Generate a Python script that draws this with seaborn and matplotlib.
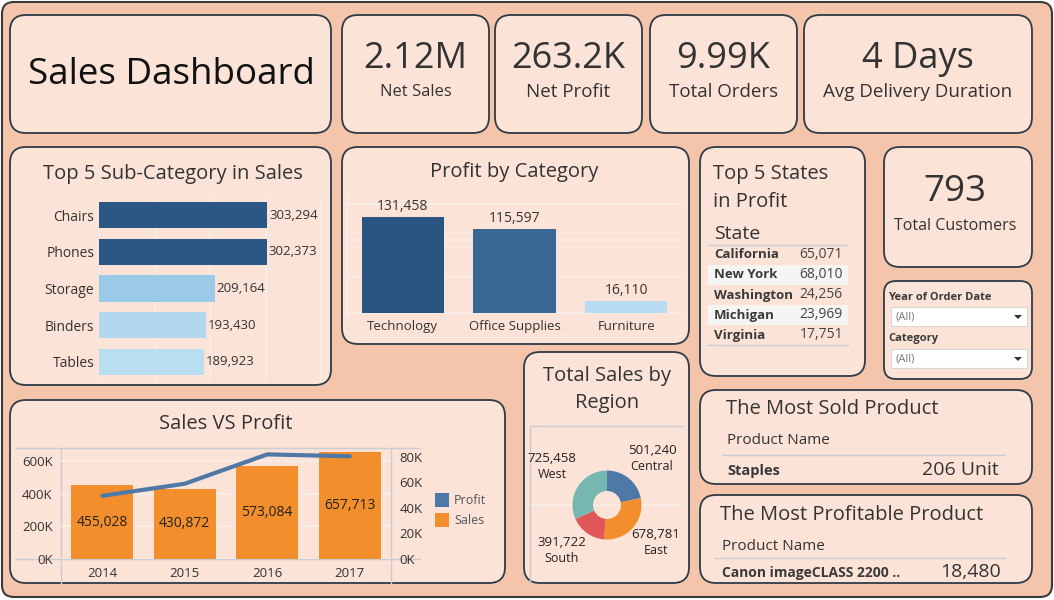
import numpy as np
import pandas as pd
import seaborn as sns
import matplotlib.pyplot as plt
from matplotlib.patches import FancyBboxPatch, Rectangle, Polygon

# ---- data ----
kpi_values = ['2.12M', '263.2K', '9.99K', '4 Days']
kpi_labels = ['Net Sales', 'Net Profit', 'Total Orders', 'Avg Delivery Duration']
sub_cats = ['Chairs', 'Phones', 'Storage', 'Binders', 'Tables']
sub_sales = [303294, 302373, 209164, 193430, 189923]
categories = ['Technology', 'Office Supplies', 'Furniture']
cat_profit = [131458, 115597, 16110]
states = ['California', 'New York', 'Washington', 'Michigan', 'Virginia']
state_profit = [65071, 68010, 24256, 23969, 17751]
years = ['2014', '2015', '2016', '2017']
year_sales = [455028, 430872, 573084, 657713]
year_profit = [49500, 59000, 82000, 80500]
regions = ['Central', 'East', 'South', 'West']
region_sales = [501240, 678781, 391722, 725458]
total_customers = '793'
most_sold = ['Staples', '206 Unit']
most_profit = ['Canon imageCLASS 2200 ..', '18,480']

# ---- style ----
BG = '#F5C5AB'
CARD = '#FCE3D7'
EDGE = '#2E3B47'
TXT = '#333333'
GRID = '#F7EEE9'
LINE = '#C9CDD2'
BLUE = '#4E79A7'
ORANGE = '#F28E2B'

sns.set_theme(style='white')
plt.rcParams['font.family'] = ['Open Sans', 'DejaVu Sans']
plt.rcParams['text.color'] = TXT

W, H = 1054, 600
fig = plt.figure(figsize=(W / 100, H / 100), dpi=100, facecolor='white')
bg = fig.add_axes([0, 0, 1, 1])
bg.set_xlim(0, W)
bg.set_ylim(H, 0)
bg.axis('off')


def card(x0, y0, x1, y1, r=16):
    bg.add_patch(FancyBboxPatch((x0, y0), x1 - x0, y1 - y0,
                                boxstyle=f'round,pad=0,rounding_size={r}',
                                fc=CARD, ec=EDGE, lw=1.3))


def pane(x0, y0, x1, y1):
    a = fig.add_axes([x0 / W, 1 - y1 / H, (x1 - x0) / W, (y1 - y0) / H])
    a.set_facecolor('none')
    return a


def txt(x, y, s, size=10, ha='left', **kw):
    bg.text(x, y, s, fontsize=size, ha=ha, va='center', color=kw.pop('color', TXT), **kw)


def hline(x0, x1, y, c=LINE, lw=1):
    bg.plot([x0, x1], [y, y], color=c, lw=lw, zorder=1)


def vline(x, y0, y1, c=LINE, lw=1):
    bg.plot([x, x], [y0, y1], color=c, lw=lw, zorder=1)


# outer frame
bg.add_patch(FancyBboxPatch((2, 2), W - 4, H - 5, boxstyle='round,pad=0,rounding_size=12',
                            fc=BG, ec='#3A3A3A', lw=1.5))

# cards
card(10, 15, 331, 133)
kpi_boxes = [(342, 489), (495, 642), (650, 797), (804, 1032)]
for x0, x1 in kpi_boxes:
    card(x0, 15, x1, 133)
card(10, 147, 331, 385)
card(342, 147, 689, 344)
card(700, 147, 865, 376)
card(884, 147, 1032, 267)
card(884, 281, 1032, 379, r=12)
card(10, 400, 505, 583)
card(524, 352, 689, 583)
card(700, 390, 1032, 484)
card(700, 495, 1032, 583)

# header + KPIs
txt(171, 75, 'Sales Dashboard', size=26.5, ha='center', color='#111111')
for (x0, x1), v, lab in zip(kpi_boxes, kpi_values, kpi_labels):
    cx = (x0 + x1) / 2
    txt(cx, 59, v, size=26, ha='center')
    txt(cx, 92, lab, size=13.5 if lab != 'Net Sales' else 12, ha='center')

# ---- Top 5 Sub-Category ----
txt(173, 174, 'Top 5 Sub-Category in Sales', size=14.5, ha='center')
ax1 = pane(99, 197, 325, 380)
sub_df = pd.DataFrame({'cat': sub_cats, 'sales': sub_sales})
sns.barplot(data=sub_df, x='sales', y='cat', hue='cat', orient='h', legend=False,
            palette=['#2C5784', '#2C5784', '#9BC9E8', '#B2D7EE', '#B9DDF1'],
            saturation=1, edgecolor='none', linewidth=0,
            width=0.72, ax=ax1, zorder=2)
ax1.set_xlim(0, 407000)
ax1.set_ylim(4.5, -0.5)
ax1.set_xticks([0, 100000, 200000, 300000, 400000])
ax1.set_xticklabels([])
ax1.grid(axis='x', color=GRID, lw=1.2)
ax1.tick_params(axis='both', length=0, labelsize=10, labelcolor=TXT)
ax1.set_xlabel('')
ax1.set_ylabel('')
sns.despine(ax=ax1, left=True, bottom=True)
for i, v in enumerate(sub_sales):
    ax1.text(v + 3000, i, f'{v:,}', va='center', fontsize=9.5, color=TXT)

# ---- Profit by Category ----
txt(514, 172, 'Profit by Category', size=14.5, ha='center')
ax2 = pane(347, 195, 682, 313)
cat_df = pd.DataFrame({'cat': categories, 'profit': cat_profit})
sns.barplot(data=cat_df, x='cat', y='profit', hue='cat', legend=False,
            palette=['#2B5581', '#3A6894', '#B8DCF1'], saturation=1,
            edgecolor='none', linewidth=0, width=0.74, ax=ax2, zorder=2)
ax2.set_xlim(-0.5, 2.5)
ax2.set_ylim(0, 162000)
ax2.set_yticks([50000, 100000, 150000])
ax2.set_yticklabels([])
ax2.grid(axis='y', color=GRID, lw=1.2)
ax2.tick_params(axis='both', length=0, labelsize=9.5, labelcolor=TXT, pad=5)
ax2.set_xlabel('')
ax2.set_ylabel('')
sns.despine(ax=ax2, left=True, bottom=True)
for i, v in enumerate(cat_profit):
    ax2.text(i, v + 4000, f'{v:,}', ha='center', va='bottom', fontsize=10, color=TXT)
hline(347, 682, 313, c=GRID, lw=1.2)
vline(347, 195, 318, c=GRID, lw=1.2)

# ---- Top 5 States ----
txt(713, 174, 'Top 5 States', size=14.5)
txt(713, 202, 'in Profit', size=14.5)
txt(714, 234, 'State', size=14)
hline(708, 848, 245)
for i, (s, v) in enumerate(zip(states, state_profit)):
    y = 255 + 20 * i
    if i % 2 == 1:
        bg.add_patch(Rectangle((708, y - 10), 140, 20, fc='#F5F5F5', ec='none', zorder=1))
    txt(714, y, s, size=9.5, fontweight='bold', color='#3A3A3A')
    txt(843, y, f'{v:,}', size=10, ha='right', color='#444444')
hline(708, 848, 345)

# ---- Total customers ----
txt(955, 192, total_customers, size=26.5, ha='center')
txt(955, 226, 'Total Customers', size=11.5, ha='center')

# ---- Filters ----
for lab, y in [('Year of Order Date', 297), ('Category', 339)]:
    txt(888, y, lab, size=8, fontweight='bold', color='#3A3A3A')
    by = y + 10
    bg.add_patch(Rectangle((891, by), 136, 19, fc='white', ec='#D6D6D6', lw=0.8, zorder=2))
    vline(1009, by + 1, by + 18, c='#E4E4E4')
    txt(896, by + 10, '(All)', size=8, color='#777777', zorder=3)
    bg.add_patch(Polygon([[1014, by + 8], [1022, by + 8], [1018, by + 12]],
                         closed=True, fc='#333333', ec='none', zorder=3))

# ---- Sales VS Profit ----
txt(226, 424, 'Sales VS Profit', size=14.5, ha='center')
hline(15, 420, 448)
hline(15, 420, 559)
vline(61, 448, 583)
vline(391, 448, 583)
ax3 = pane(61, 448, 391, 559)
yr_df = pd.DataFrame({'year': years, 'sales': year_sales, 'profit': year_profit})
sns.barplot(data=yr_df, x='year', y='sales', color=ORANGE, saturation=1,
            edgecolor='none', linewidth=0, width=0.75, ax=ax3, zorder=2)
ax3.set_xlim(-0.5, 3.5)
ax3.set_ylim(0, 683000)
ax3.set_yticks([0, 200000, 400000, 600000])
ax3.set_yticklabels(['0K', '200K', '400K', '600K'])
ax3.grid(axis='y', color=GRID, lw=1.2)
ax3.tick_params(axis='both', length=0, labelsize=9.5, labelcolor=TXT, pad=6)
ax3.set_xlabel('')
ax3.set_ylabel('')
for sp in ax3.spines.values():
    sp.set_visible(False)
for i, v in enumerate(year_sales):
    ax3.text(i, v / 2, f'{v:,}', ha='center', va='center', fontsize=10, color='#222222', zorder=3)
ax3b = ax3.twinx()
sns.lineplot(data=yr_df, x='year', y='profit', color=BLUE, lw=3, ax=ax3b, zorder=4)
ax3b.set_ylim(0, 87000)
ax3b.set_yticks([0, 20000, 40000, 60000, 80000])
ax3b.set_yticklabels(['0K', '20K', '40K', '60K', '80K'])
ax3b.tick_params(axis='y', length=0, labelsize=9.5, labelcolor=TXT, pad=6)
ax3b.set_ylabel('')
for sp in ax3b.spines.values():
    sp.set_visible(False)
for c, lab, y in [(BLUE, 'Profit', 500), (ORANGE, 'Sales', 520)]:
    bg.add_patch(Rectangle((435, y - 7), 14, 14, fc=c, ec='none', zorder=2))
    txt(454, y, lab, size=9, color='#555555')

# ---- Total Sales by Region ----
txt(607, 376, 'Total Sales by', size=14.5, ha='center')
txt(607, 403, 'Region', size=14.5, ha='center')
hline(530, 683, 426)
hline(530, 683, 505, c=GRID, lw=1.2)
vline(530, 426, 583)
ax4 = pane(567, 465, 647, 545)
ax4.pie(region_sales, radius=34.5 / 40, startangle=90, counterclock=False,
        colors=[BLUE, ORANGE, '#E15759', '#76B7B2'],
        wedgeprops=dict(width=20.5 / 40, ec='none'))
ax4.set_xlim(-1, 1)
ax4.set_ylim(-1, 1)
label_pos = [(652, 458), (656, 543), (562, 550), (552, 466)]
for (x, y), r, v in zip(label_pos, regions, region_sales):
    txt(x, y - 8, f'{v:,}', size=9.5, ha='center', color='#222222')
    txt(x, y + 8, r, size=9, ha='center', color='#222222')

# ---- Most sold / most profitable ----
txt(726, 409, 'The Most Sold Product', size=14.5)
txt(727, 441, 'Product Name', size=11)
hline(722, 1005, 455)
txt(727, 471, most_sold[0], size=10.5, fontweight='bold', color='#3A3A3A')
txt(999, 470, most_sold[1], size=14, ha='right')

txt(720, 515, 'The Most Profitable Product', size=14.5)
txt(722, 547, 'Product Name', size=11)
hline(715, 1005, 558)
txt(722, 573, most_profit[0], size=10, fontweight='bold', color='#3A3A3A')
txt(1001, 572, most_profit[1], size=14, ha='right')

fig.savefig('out.png', dpi=100, facecolor='white')
